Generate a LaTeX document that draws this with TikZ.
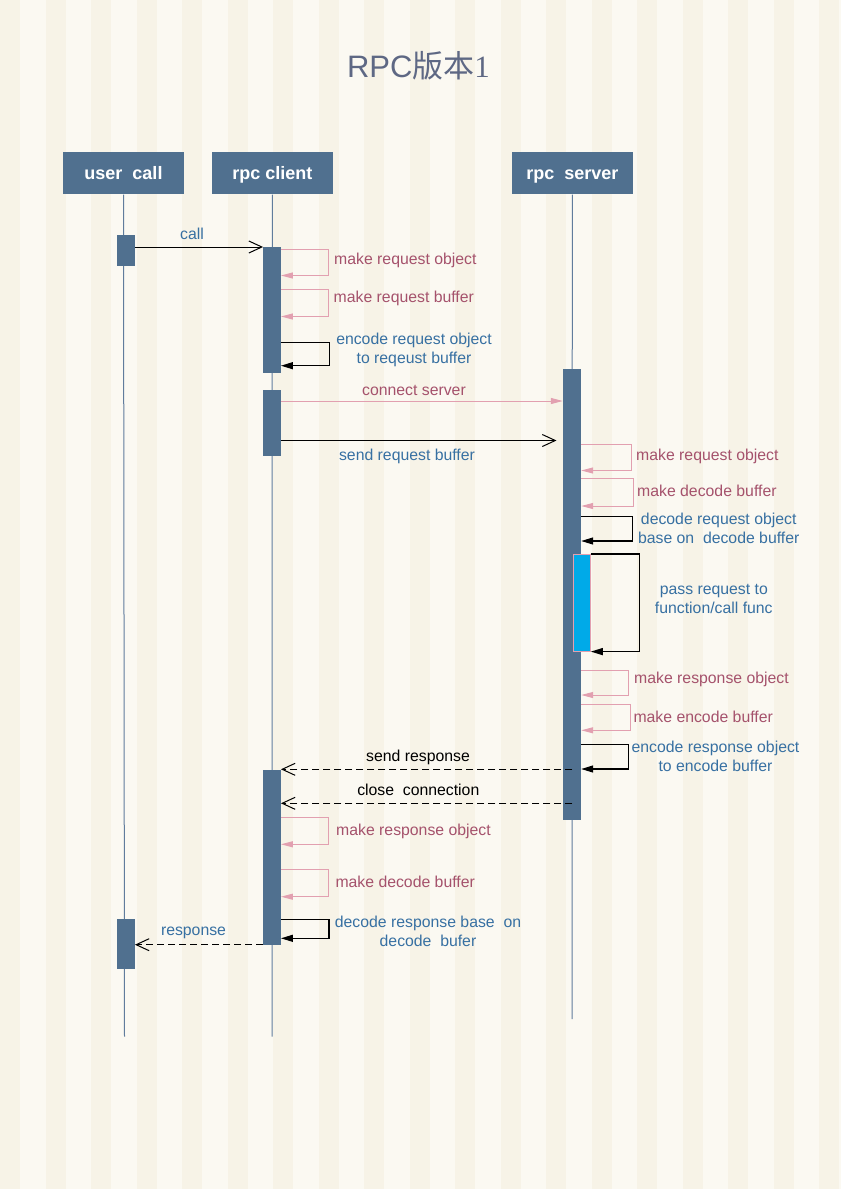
\documentclass[tikz,border=0pt]{standalone}
\usepackage{fontspec}
\setmainfont{Liberation Sans}
\newfontfamily\cjkfont{Noto Sans CJK SC}
\newfontfamily\numfont{Liberation Serif}
\usetikzlibrary{arrows.meta}

\definecolor{hdr}{RGB}{80,112,143}
\definecolor{lifeln}{RGB}{96,124,156}
\definecolor{pinkln}{RGB}{226,160,176}
\definecolor{pinktx}{RGB}{165,82,108}
\definecolor{bluetx}{RGB}{55,112,162}
\definecolor{cyanbar}{RGB}{0,170,232}
\definecolor{stripeA}{RGB}{247,243,231}
\definecolor{stripeB}{RGB}{251,249,242}
\definecolor{titletx}{RGB}{94,104,132}

\begin{document}
\begin{tikzpicture}[x=1pt,y=-1pt,
  head/.style={fill=hdr,text=white,font=\bfseries\fontsize{18}{21}\selectfont,minimum width=121pt,minimum height=42pt,inner sep=0pt,text height=13pt,text depth=1pt},
  bar/.style={fill=hdr,minimum width=17.5pt,inner sep=0pt,anchor=north},
  life/.style={draw=lifeln,line width=1pt},
  lbl/.style={font=\fontsize{15.8}{19}\selectfont,inner sep=0pt,align=center},
  pinkmsg/.style={draw=pinkln,line width=1pt,-{Triangle[length=12pt,width=6pt]}},
  selfmsg/.style={draw=black,line width=1.3pt,-{Triangle[length=12pt,width=7pt]}},
  callmsg/.style={draw=black,line width=1pt,-{Straight Barb[length=13pt,width=12pt]}},
  retmsg/.style={callmsg,dash pattern=on 7pt off 4pt}]

  % background stripes
  \fill[stripeB] (0,0) rectangle (841,1189);
  \foreach \i in {0,...,18}
    \fill[stripeA] ({\i*45.5},0) rectangle ({\i*45.5+20},1189);

  \node[text=titletx,font=\fontsize{31}{36}\selectfont,anchor=base] (title) at (418.5,77.3) {RPC{\cjkfont 版本}{\numfont 1}};

  % heads and lifelines
  \node[head] (user) at (123.5,173.3) {user\ \ call};
  \node[head] (client) at (272.3,173.3) {rpc client};
  \node[head] (server) at (572.3,173.3) {rpc\ \ server};
  \coordinate (userend) at (124.5,1036.5);
  \coordinate (clientend) at (272,1036.5);
  \coordinate (serverend) at (572,1019);
  \draw[life] (user.south) -- (userend);
  \draw[life] (client.south) -- (clientend);
  \draw[life] (server.south) -- (serverend);

  % activation bars
  \node[bar,minimum height=31pt] (ub1) at (126,235) {};
  \node[bar,minimum height=50pt] (ub2) at (126,919) {};
  \node[bar,minimum height=126pt] (cb1) at (272,247) {};
  \node[bar,minimum height=66pt] (cb2) at (272,390) {};
  \node[bar,minimum height=175pt] (cb3) at (272,769.3) {};
  \node[bar,minimum width=18pt,minimum height=451pt] (sb) at (572,369) {};
  \node[bar,fill=cyanbar,draw=pinkln,line width=0.6pt,minimum width=17pt,minimum height=97pt] (fb) at (582,554) {};

  % client -> server
  \draw[callmsg] (ub1.east |- cb1.north) -- (cb1.north west);
  \node[lbl,text=bluetx] (callL) at (192,234) {call};
  \draw[pinkmsg] (cb1.east |- 0,249) -- ++(48,0) |- (cb1.east |- 0,275.5);
  \node[lbl,text=pinktx,anchor=west] (c1L) at (334,260) {make request object};
  \draw[pinkmsg] (cb1.east |- 0,289.3) -- ++(48,0) |- (cb1.east |- 0,316.5);
  \node[lbl,text=pinktx,anchor=west] (c2L) at (333.5,298) {make request buffer};
  \draw[selfmsg] (cb1.east |- 0,342.3) -- ++(48.5,0) |- (cb1.east |- 0,365.7);
  \node[lbl,text=bluetx] (c3L) at (414,349.5) {encode request object\\to reqeust buffer};
  \draw[pinkmsg] (cb2.east |- 0,401) -- (sb.west |- 0,401);
  \node[lbl,text=pinktx] (connL) at (414,390.5) {connect server};
  \coordinate (sendend) at (556.5,440.5);
  \draw[callmsg] (cb2.east |- sendend) -- (sendend);
  \node[lbl,text=bluetx] (sendL) at (407,456.5) {send request buffer};

  % server side
  \draw[pinkmsg] (sb.east |- 0,444) -- ++(50,0) |- (sb.east |- 0,470.5);
  \node[lbl,text=pinktx,anchor=west] (s1L) at (636,456.5) {make request object};
  \draw[pinkmsg] (sb.east |- 0,478.3) -- ++(52,0) |- (sb.east |- 0,506);
  \node[lbl,text=pinktx,anchor=west] (s2L) at (637,491) {make decode buffer};
  \draw[selfmsg] (sb.east |- 0,516.7) -- ++(51,0) |- (sb.east |- 0,541);
  \node[lbl,text=bluetx] (s3L) at (718.7,528.5) {decode request object\\base on\ \ decode buffer};
  \draw[selfmsg] (fb.north east) -- ++(48.5,0) |- (fb.south east);
  \node[lbl,text=bluetx] (s4L) at (713.8,599) {pass request to\\function/call func};
  \draw[pinkmsg] (sb.east |- 0,670) -- ++(47,0) |- (sb.east |- 0,695);
  \node[lbl,text=pinktx,anchor=west] (s5L) at (634,679) {make response object};
  \draw[pinkmsg] (sb.east |- 0,704.3) -- ++(49.5,0) |- (sb.east |- 0,730.3);
  \node[lbl,text=pinktx,anchor=west] (s6L) at (633.3,716.5) {make encode buffer};
  \draw[selfmsg] (sb.east |- 0,744.3) -- ++(47.5,0) |- (sb.east |- 0,769);
  \node[lbl,text=bluetx] (s7L) at (715.5,756) {encode response object\\to encode buffer};

  % server -> client
  \draw[retmsg] (server |- cb3.north) -- (cb3.north east);
  \node[lbl] (respL) at (418,757) {send response};
  \draw[retmsg] (server |- 0,803.3) -- (cb3.east |- 0,803.3);
  \node[lbl] (closeL) at (418.3,790) {close\ \ connection};
  \draw[pinkmsg] (cb3.east |- 0,817.3) -- ++(48,0) |- (cb3.east |- 0,844.3);
  \node[lbl,text=pinktx,anchor=west] (r1L) at (336,831.5) {make response object};
  \draw[pinkmsg] (cb3.east |- 0,869.3) -- ++(48,0) |- (cb3.east |- 0,896.7);
  \node[lbl,text=pinktx,anchor=west] (r2L) at (335.3,882.3) {make decode buffer};
  \draw[selfmsg] (cb3.east |- 0,919.3) -- ++(48,0) |- (cb3.east |- 0,938.3);
  \node[lbl,text=bluetx] (r3L) at (428,931.5) {decode response base\ \ on\\decode\ \ bufer};
  \draw[retmsg] (cb3.south west) -- (ub2.east |- cb3.south);
  \node[lbl,text=bluetx] (r4L) at (193.5,933.3) {response};
\end{tikzpicture}
\end{document}
